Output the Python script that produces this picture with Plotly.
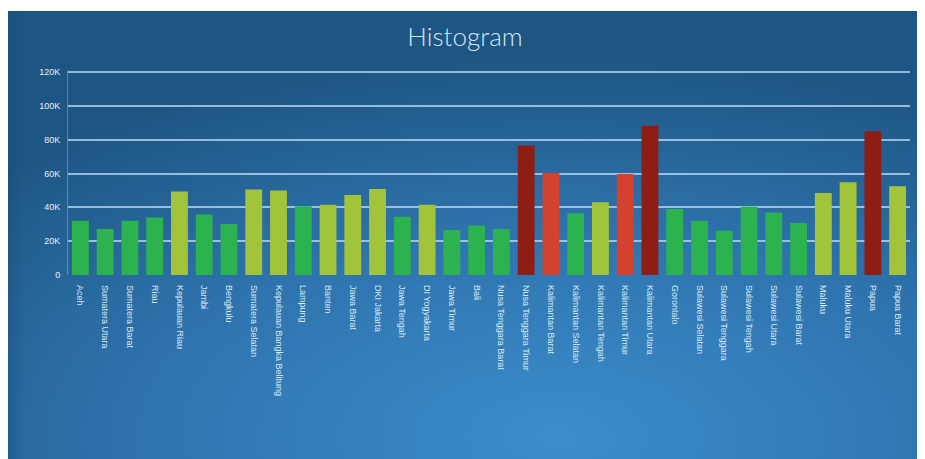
import base64
import plotly.graph_objects as go

provinces = [
    "Aceh", "Sumatera Utara", "Sumatera Barat", "Riau", "Kepulauan Riau", "Jambi",
    "Bengkulu", "Sumatera Selatan", "Kepulauan Bangka Belitung", "Lampung", "Banten",
    "Jawa Barat", "DKI Jakarta", "Jawa Tengah", "DI Yogyakarta", "Jawa Timur", "Bali",
    "Nusa Tenggara Barat", "Nusa Tenggara Timur", "Kalimantan Barat", "Kalimantan Selatan",
    "Kalimantan Tengah", "Kalimantan Timur", "Kalimantan Utara", "Gorontalo",
    "Sulawesi Selatan", "Sulawesi Tenggara", "Sulawesi Tengah", "Sulawesi Utara",
    "Sulawesi Barat", "Maluku", "Maluku Utara", "Papua", "Papua Barat",
]
values = [
    32000, 27200, 32000, 34000, 49300, 35700,
    30200, 50500, 49900, 40600, 41600,
    47300, 50900, 34500, 41600, 26600, 29200,
    27200, 76500, 60300, 36500,
    43000, 59700, 88300, 39000,
    32100, 26200, 40400, 37000,
    30800, 48500, 54800, 85000, 52400,
]
# colour class per bar: g = green, y = yellow-green, r = red, d = dark red
classes = [
    "g", "g", "g", "g", "y", "g",
    "g", "y", "y", "g", "y",
    "y", "y", "g", "y", "g", "g",
    "g", "d", "r", "g",
    "y", "r", "d", "g",
    "g", "g", "g", "g",
    "g", "y", "y", "d", "y",
]
tick_vals = [0, 20000, 40000, 60000, 80000, 100000, 120000]
tick_text = ["0", "20K", "40K", "60K", "80K", "100K", "120K"]

palette = {"g": "#2cb24e", "y": "#a2c43a", "r": "#d4412e", "d": "#8e1e14"}
bar_colors = [palette[c] for c in classes]

# the page body has an 8px default margin; size the figure to fill the rest
OFF = 8
W, H = 925 - OFF, 459 - OFF
ml, mr, mt, mb = 68 - OFF, 15, 70 - OFF, 184
pw, ph = W - ml - mr, H - mt - mb

svg = """<svg xmlns='http://www.w3.org/2000/svg' width='918' height='448' preserveAspectRatio='none'>
<defs>
<radialGradient id='g' cx='0.6' cy='0.95' r='0.85' fx='0.6' fy='0.95'>
<stop offset='0' stop-color='#3b8dcc'/>
<stop offset='0.55' stop-color='#2e73ad'/>
<stop offset='1' stop-color='#1e5683'/>
</radialGradient>
<linearGradient id='l' x1='0' y1='0' x2='1' y2='0'>
<stop offset='0' stop-color='#16456c' stop-opacity='0.3'/>
<stop offset='0.02' stop-color='#16456c' stop-opacity='0'/>
</linearGradient>
</defs>
<rect width='918' height='448' fill='url(#g)'/>
<rect width='918' height='448' fill='url(#l)'/>
</svg>"""
src = "data:image/svg+xml;base64," + base64.b64encode(svg.encode()).decode()

px0, py0, px1, py1 = 0, 11 - OFF, W, H
img_x = (px0 - ml) / pw
img_y = 1 + (mt - py0) / ph
img_sx = (px1 - px0) / pw
img_sy = (py1 - py0) / ph

fig = go.Figure(
    go.Bar(
        x=provinces,
        y=values,
        marker=dict(color=bar_colors, line=dict(width=0)),
        width=0.68,
    )
)

fig.update_layout(
    width=W,
    height=H,
    margin=dict(l=ml, r=mr, t=mt, b=mb),
    paper_bgcolor="white",
    plot_bgcolor="rgba(0,0,0,0)",
    showlegend=False,
    title=dict(
        text="Histogram",
        x=(465 - OFF) / W,
        xanchor="center",
        y=1 - (37 - OFF) / H,
        yanchor="middle",
        font=dict(family="Lato", size=26, color="#d3e5f4", weight=300),
    ),
    images=[
        dict(
            source=src,
            xref="paper",
            yref="paper",
            x=img_x,
            y=img_y,
            sizex=img_sx,
            sizey=img_sy,
            sizing="stretch",
            xanchor="left",
            yanchor="top",
            layer="below",
        )
    ],
    bargap=0.3,
)

fig.update_yaxes(
    range=[0, 121200],
    tickvals=tick_vals,
    ticktext=tick_text,
    showgrid=True,
    gridcolor="rgba(190,220,245,0.75)",
    gridwidth=2,
    zeroline=False,
    showline=True,
    linecolor="rgba(190,220,245,0.35)",
    linewidth=1,
    ticks="",
    tickfont=dict(family="Liberation Sans", size=9, color="#e6f0f8"),
    ticklabelstandoff=5,
)
fig.update_xaxes(
    tickangle=90,
    showgrid=False,
    ticks="",
    tickfont=dict(family="Liberation Sans", size=9, color="#dde9f5"),
    ticklabelstandoff=9,
)

fig.write_html("out.html")
